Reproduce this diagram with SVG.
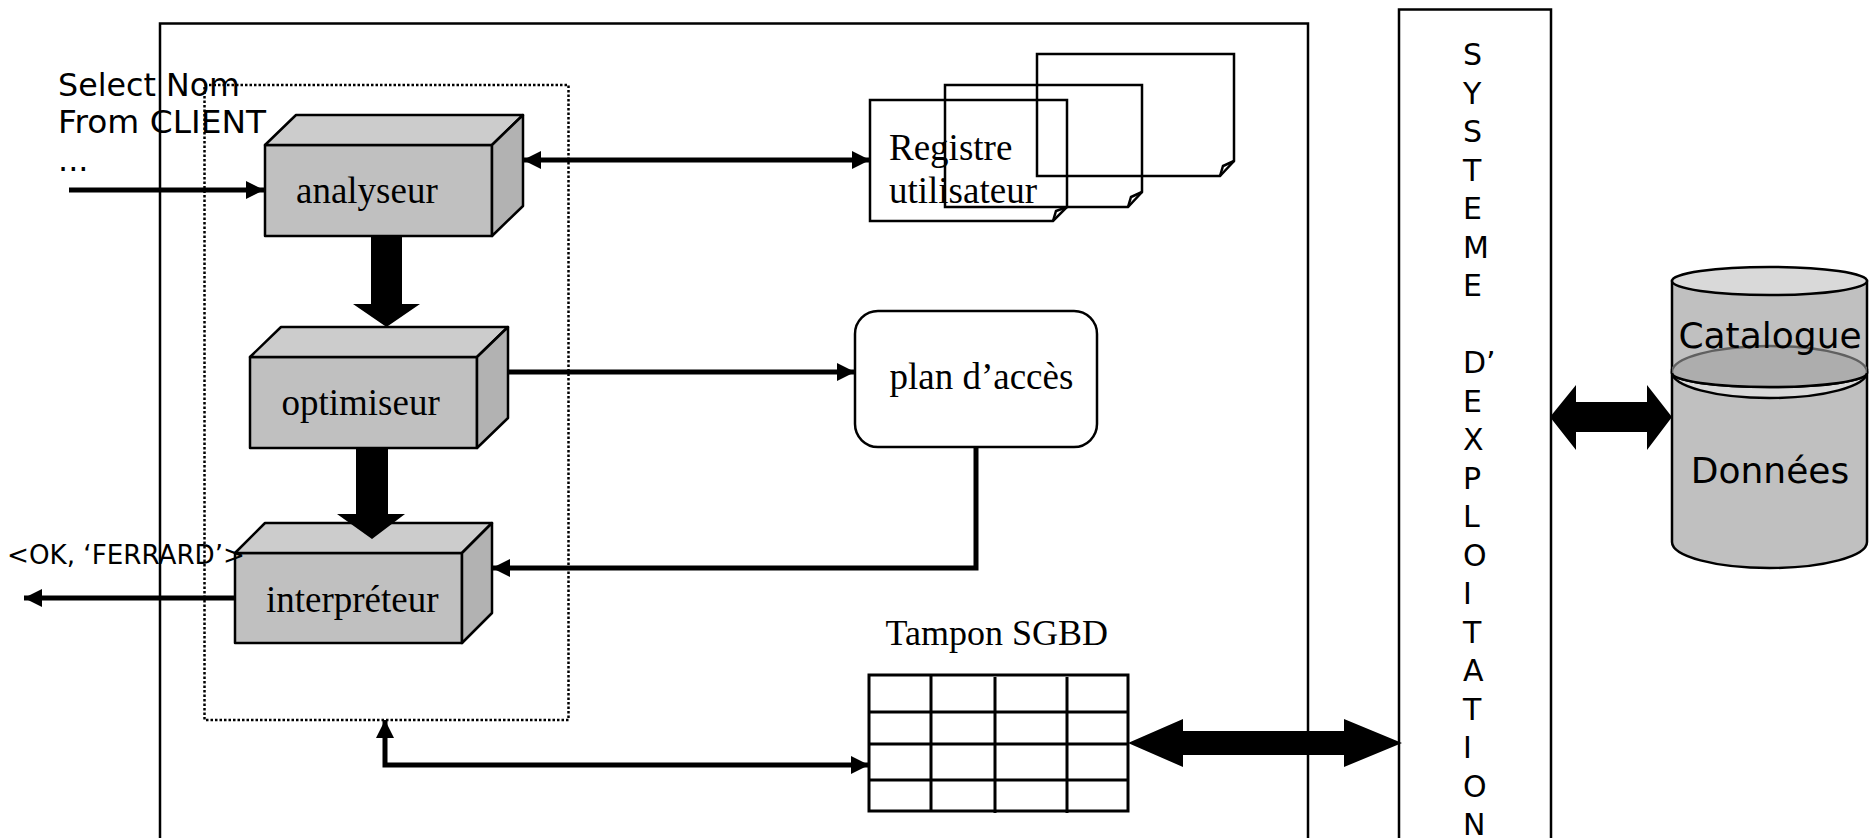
<svg xmlns="http://www.w3.org/2000/svg" width="1870" height="838" viewBox="0 0 1870 838">
<style>
.frame{fill:none;stroke:#000;stroke-width:2.5}
.dotted{fill:none;stroke:#000;stroke-width:2.5;stroke-dasharray:2.5 2}
.front{fill:#c0c0c0;stroke:#000;stroke-width:2.5;stroke-linejoin:round}
.top{fill:#cccccc;stroke:#000;stroke-width:2.5;stroke-linejoin:round}
.side{fill:#b2b2b2;stroke:#000;stroke-width:2.5;stroke-linejoin:round}
.page{fill:none;stroke:#000;stroke-width:2.5;stroke-linejoin:miter}
.conn{fill:none;stroke:#000;stroke-width:5}
.block{fill:#000;stroke:none}
.serif{font-family:"Liberation Serif","Times New Roman",serif;font-size:37px;fill:#000}
.sans{font-family:"DejaVu Sans",Verdana,sans-serif;fill:#000}
.grid{fill:none;stroke:#000;stroke-width:3}
</style>
<defs>
<marker id="arr" markerUnits="userSpaceOnUse" viewBox="0 0 18 18" refX="18" refY="9" markerWidth="18" markerHeight="18" orient="auto-start-reverse">
<path d="M0,0 L18,9 L0,18 z" fill="#000"/>
</marker>
<clipPath id="catClip">
<path d="M1672,281 V373 A97.5,14 0 0 0 1867,373 V281 z"/>
</clipPath>
</defs>
<rect width="1870" height="838" fill="#fff"/>

<g id="sgbd-frame">
<rect class="frame" x="160" y="23.5" width="1148" height="900"/>
</g>
<g id="noyau">
<rect class="dotted" x="204.5" y="85" width="364" height="635"/>
</g>

<g id="analyseur">
<rect class="front" x="265" y="145" width="227" height="91"/>
<polygon class="top" points="265,145 296,115 523,115 492,145"/>
<polygon class="side" points="492,145 523,115 523,206 492,236"/>
<text class="serif" x="296" y="203">analyseur</text>
</g>

<g id="optimiseur">
<rect class="front" x="250" y="357" width="227" height="91"/>
<polygon class="top" points="250,357 281,327 508,327 477,357"/>
<polygon class="side" points="477,357 508,327 508,418 477,448"/>
<text class="serif" x="281.5" y="415">optimiseur</text>
</g>

<g id="interpreteur">
<rect class="front" x="235" y="553" width="227" height="90"/>
<polygon class="top" points="235,553 265,523 492,523 462,553"/>
<polygon class="side" points="462,553 492,523 492,613 462,643"/>
<text class="serif" x="266" y="612">interpréteur</text>
</g>

<g id="registre">
<path class="page" d="M1037,54 H1234 V161 L1220,176 H1037 z"/>
<path class="page" d="M1220,176 L1223,166 L1234,161"/>
<path class="page" d="M945,85 H1142 V192 L1128,207 H945 z"/>
<path class="page" d="M1128,207 L1131,197 L1142,192"/>
<path class="page" d="M870,100 H1067 V207 L1053,221 H870 z"/>
<path class="page" d="M1053,221 L1056,211 L1067,207"/>
<text class="serif" x="889" y="160">Registre</text>
<text class="serif" x="889" y="202.5">utilisateur</text>
</g>

<g id="plan-acces">
<rect class="frame" x="855" y="311" width="242" height="136" rx="23" ry="23"/>
<text class="serif" x="889.5" y="389">plan d’accès</text>
</g>

<g id="tampon">
<text class="serif" x="885.5" y="645" style="font-size:36px">Tampon SGBD</text>
<rect class="grid" x="869" y="675" width="259" height="136"/>
<path class="grid" d="M869,712 H1128 M869,744 H1128 M869,780 H1128 M931,675 V811 M995,677 V813 M1067,677 V813"/>
</g>

<g id="systeme">
<rect class="frame" x="1399" y="9.5" width="152" height="900"/>
<text class="sans" style="font-size:30px" x="1463" y="65"><tspan x="1463" y="65">S</tspan><tspan x="1463" dy="38.5">Y</tspan><tspan x="1463" dy="38.5">S</tspan><tspan x="1463" dy="38.5">T</tspan><tspan x="1463" dy="38.5">E</tspan><tspan x="1463" dy="38.5">M</tspan><tspan x="1463" dy="38.5">E</tspan><tspan x="1463" dy="77">D’</tspan><tspan x="1463" dy="38.5">E</tspan><tspan x="1463" dy="38.5">X</tspan><tspan x="1463" dy="38.5">P</tspan><tspan x="1463" dy="38.5">L</tspan><tspan x="1463" dy="38.5">O</tspan><tspan x="1463" dy="38.5">I</tspan><tspan x="1463" dy="38.5">T</tspan><tspan x="1463" dy="38.5">A</tspan><tspan x="1463" dy="38.5">T</tspan><tspan x="1463" dy="38.5">I</tspan><tspan x="1463" dy="38.5">O</tspan><tspan x="1463" dy="38">N</tspan></text>
</g>

<g id="base">
<path d="M1672,370 V542 A97.5,26 0 0 0 1867,542 V370 z" fill="#c0c0c0" stroke="#000" stroke-width="2.5"/>
<ellipse cx="1769.5" cy="372" rx="97.5" ry="26" fill="#d9d9d9" stroke="#000" stroke-width="2.5"/>
<path d="M1672,281 V373 A97.5,14 0 0 0 1867,373 V281 z" fill="#c0c0c0" stroke="#000" stroke-width="2.5"/>
<ellipse cx="1769.5" cy="372" rx="97.5" ry="26" fill="#adadad" stroke="#606060" stroke-width="2.5" clip-path="url(#catClip)"/>
<path d="M1672,373 A97.5,14 0 0 0 1867,373" fill="none" stroke="#000" stroke-width="2.5"/>
<ellipse cx="1769.5" cy="281" rx="97.5" ry="14" fill="#d9d9d9" stroke="#000" stroke-width="2.5"/>
<text class="sans" style="font-size:36px" x="1770" y="348" text-anchor="middle">Catalogue</text>
<text class="sans" style="font-size:36px" x="1770" y="483" text-anchor="middle">Données</text>
</g>

<g id="connectors">
<path class="conn" d="M69,190 H264" marker-end="url(#arr)"/>
<path class="conn" d="M523,160 H870" stroke-width="4.5" marker-start="url(#arr)" marker-end="url(#arr)"/>
<path class="conn" d="M507,372 H855" marker-end="url(#arr)"/>
<path class="conn" d="M976,447 V568 H492" marker-end="url(#arr)"/>
<path class="conn" d="M235,598 H24" marker-end="url(#arr)"/>
<path class="conn" d="M385,720 V765 H869" marker-start="url(#arr)" marker-end="url(#arr)"/>
<polygon class="block" points="371,236 402,236 402,304 420,304 386.5,327 353,304 371,304"/>
<polygon class="block" points="356,448 388,448 388,514 405,514 372,539 337,514 356,514"/>
<polygon class="block" points="1128,743 1183,719 1183,731 1344,731 1344,719 1402,743 1344,767 1344,755 1183,755 1183,767"/>
<polygon class="block" points="1550,417 1576,385 1576,402 1647,402 1647,385 1672,417 1647,450 1647,432 1576,432 1576,450"/>
</g>

<g id="labels">
<text class="sans" style="font-size:32px" x="58" y="96" textLength="182" lengthAdjust="spacingAndGlyphs">Select Nom</text>
<text class="sans" style="font-size:32px" x="58" y="132.5" textLength="208" lengthAdjust="spacingAndGlyphs">From CLIENT</text>
<text class="sans" style="font-size:32px" x="58" y="171">...</text>
<text class="sans" style="font-size:26px" x="7" y="564" textLength="238" lengthAdjust="spacingAndGlyphs">&lt;OK, ‘FERRARD’&gt;</text>
</g>
</svg>
